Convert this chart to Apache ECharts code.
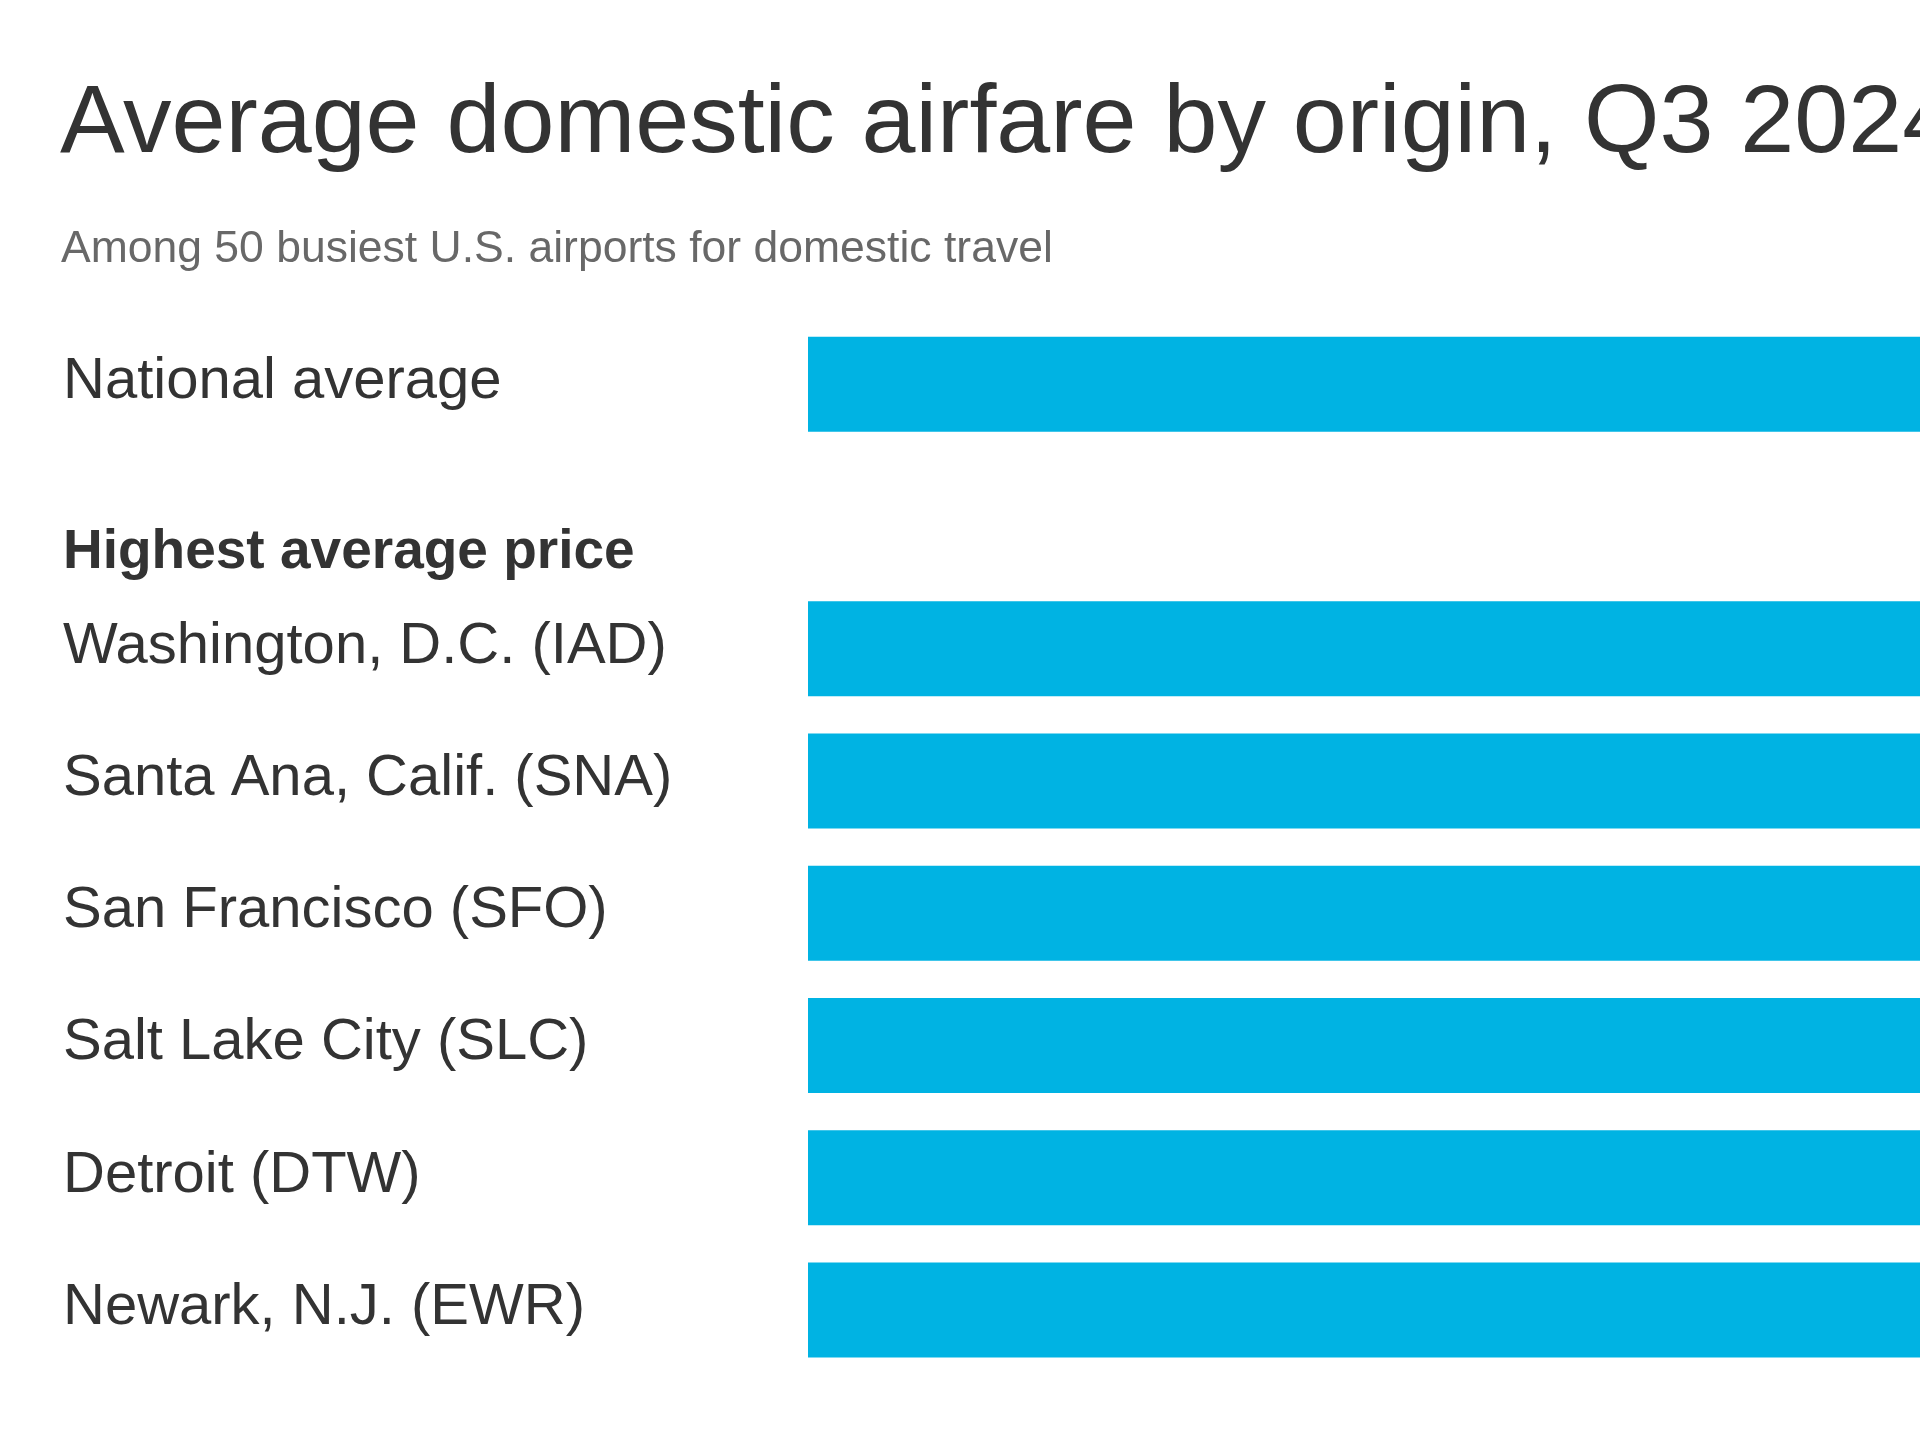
<!DOCTYPE html>
<html>
<head>
<meta charset="utf-8">
<script src="https://cdn.jsdelivr.net/npm/echarts@6/dist/echarts.min.js"></script>
<style>
html,body{margin:0;padding:0;background:#fff;}
#chart{width:1920px;height:1440px;}
</style>
</head>
<body>
<div id="chart"></div>
<script>
// Data (bars run past the right edge of the reference; values estimated)
const titleText = 'Average domestic airfare by origin, Q3 2024';
const subtitleText = 'Among 50 busiest U.S. airports for domestic travel';
const categories = [
  'National average',
  'Highest average price',
  'Washington, D.C. (IAD)',
  'Santa Ana, Calif. (SNA)',
  'San Francisco (SFO)',
  'Salt Lake City (SLC)',
  'Detroit (DTW)',
  'Newark, N.J. (EWR)'
];
const headerCategory = 'Highest average price';
const fares = [382, null, 565, 497, 475, 470, 467, 462];

const FONT = '"Liberation Sans", Arial, sans-serif';
const chart = echarts.init(document.getElementById('chart'), null, {renderer: 'canvas'});

chart.setOption({
  backgroundColor: '#ffffff',
  animation: false,
  title: [
    {
      text: titleText,
      left: 60,
      top: 77,
      padding: 0,
      textStyle: {fontFamily: FONT, fontSize: 97, fontWeight: 'normal', color: '#333333'}
    },
    {
      text: subtitleText,
      left: 61,
      top: 227,
      padding: 0,
      textStyle: {fontFamily: FONT, fontSize: 44.5, fontWeight: 'normal', color: '#686868'}
    }
  ],
  grid: {left: 808, top: 318, width: 2500, height: 1058, containLabel: false, outerBoundsMode: 'none'},
  xAxis: {
    type: 'value',
    min: 0,
    max: 600,
    show: false
  },
  yAxis: {
    type: 'category',
    data: categories,
    inverse: true,
    axisLine: {show: false},
    axisTick: {show: false},
    splitLine: {show: false},
    axisLabel: {
      show: true,
      align: 'left',
      margin: 745,
      fontFamily: FONT,
      fontSize: 58,
      color: '#333333',
      formatter: function (v) {
        return v === headerCategory ? '{h|' + v + '}' : '{n|' + v + '}';
      },
      rich: {
        n: {fontFamily: FONT, fontSize: 58, color: '#333333', padding: [0, 0, 4, 0]},
        h: {fontFamily: FONT, fontSize: 55, fontWeight: 'bold', color: '#333333', padding: [72, 0, 0, 0]}
      }
    }
  },
  series: [{
    type: 'bar',
    data: fares,
    barWidth: 95,
    itemStyle: {color: '#00B3E3'},
    label: {show: false},
    silent: true
  }]
});
</script>
</body>
</html>
